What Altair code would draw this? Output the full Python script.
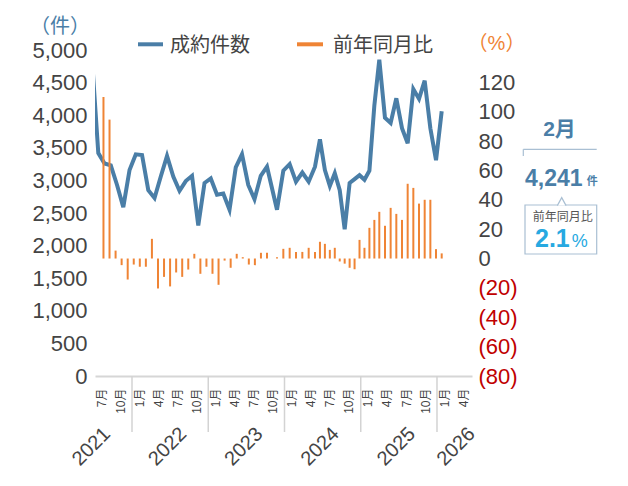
import altair as alt
import pandas as pd

# ---------------- data ----------------
months = [f"{y}-{m:02d}" for y in range(2021, 2027) for m in range(1, 13)]
months = months[months.index("2021-03"): months.index("2026-02") + 1]

# 成約件数 (monthly contracts); 2021-03 is only partly visible at the left edge
counts = [4850, 3420, 3260, 3230, 2930, 2590, 3160, 3400, 3390, 2850,          # 2021-03..12
          2730, 3060, 3375, 3060, 2840, 2990, 3070, 2310, 2960, 3030, 2780, 2800,  # 2022
          2550, 3200, 3400, 2930, 2710, 3070, 3210, 2550, 3150, 3250, 2980, 3120,  # 2023
          2980, 3210, 3630, 3160, 2915, 3110, 2850, 2250, 2960, 3020, 3080, 3010,  # 2024
          3150, 4150, 4850, 3960, 3880, 4260, 3800, 3570, 4400, 4250, 4530, 3800,  # 2025
          3310, 4060]                                                              # 2026

# 前年同月比 (%)
yoy = [None, 110.0, 94.6, 5.4, -4.5, -14.3, -4.1, -5.6, -5.6, 13.4,             # 2021-03..12
       -20.4, -12.5, -19.0, -9.5, -12.5, -7.5, 3.2, -10.4, -5.6, -10.4, -17.9, -1.4,  # 2022
       -6.3, 3.2, 0.9, -4.1, -4.5, 3.9, 3.9, 0.9, 6.6, 7.3, 4.5, 4.5,             # 2023
       7.3, 4.5, 11.4, 10.0, 5.9, 7.3, -2.0, -3.5, -6.3, -7.3, 12.7, 7.3,         # 2024
       20.9, 26.3, 31.8, 22.3, 34.5, 30.4, 26.3, 50.9, 48.1, 37.4, 40.0, 40.0,    # 2025
       6.4, 3.5]                                                                  # 2026

years = [2021, 2022, 2023, 2024, 2025, 2026]
month_ticks = list(range(6, 64, 3))          # Jul 2021 .. Apr 2026 (months since Jan 2021)
left_ticks = list(range(0, 5001, 500))
right_ticks = list(range(-80, 121, 20))

latest_month = "2月"
latest_count = "4,241"
latest_yoy = "2.1"

# ---------------- styles ----------------
BLUE = "#4a7ea7"
ORANGE = "#ef8435"
TXT = "#444444"
RED = "#c00000"
CYAN = "#27a9e1"
BORDER = "#a9bfd3"
FONT = "Liberation Sans, Noto Sans CJK JP"
W, H = 377, 326

df = pd.DataFrame({"month": months, "count": counts, "yoy": yoy})
df["i"] = list(range(-1, len(months) - 1))   # 0 = 2021-04

# the reference spaces the months slightly unevenly; follow it with a piecewise scale
xs = alt.Scale(domain=[-0.528, 27, 28, 34, 47, 58, 63.34],
               range=[0, 172, 182, 220, 284.3, 346.7, W], nice=False, zero=False)

bars = alt.Chart(df).mark_bar(size=2, color=ORANGE).encode(
    x=alt.X("i:Q", scale=xs, axis=None),
    y=alt.Y("yoy:Q", title=None,
            scale=alt.Scale(domain=[-80, 142], nice=False, zero=False),
            axis=alt.Axis(orient="right", values=right_ticks,
                          labelExpr="datum.value < 0 ? '(' + (-datum.value) + ')' : '' + datum.value",
                          labelColor={"condition": {"test": "datum.value < 0", "value": RED}, "value": TXT},
                          labelFontSize=22, labelFont=FONT, labelPadding=6,
                          domain=False, ticks=False, tickSize=0, grid=False)),
)

line = alt.Chart(df).mark_line(color=BLUE, strokeWidth=4, clip=True).encode(
    x=alt.X("i:Q", scale=xs, axis=None),
    y=alt.Y("count:Q", title=None,
            scale=alt.Scale(domain=[0, 5000], nice=False),
            axis=alt.Axis(orient="left", values=left_ticks, format=",.0f",
                          labelFontSize=22, labelFont=FONT, labelColor=TXT, labelPadding=8,
                          domain=False, ticks=False, tickSize=0, grid=False)),
)

# ---------------- month / year axis ----------------
axs = alt.Scale(domain=[5.677, 65.01], nice=False, zero=False)
sep_df = pd.DataFrame({"sep": [12 * (y - 2021) - 0.5 for y in years[1:]]})
year_df = pd.DataFrame({"year": [str(y) for y in years],
                        "anchor": [min(12 * (y - 2021) + 7.6, 65.0) for y in years]})

month_axis = alt.Axis(orient="bottom", values=month_ticks,
                      labelExpr="(datum.value % 12 + 1) + '月'",
                      labelAngle=270, labelAlign="right", labelBaseline="middle",
                      labelFontSize=12, labelFont=FONT, labelColor=TXT,
                      labelPadding=12, labelOffset=4, labelOverlap=False, labelFlush=False,
                      ticks=False, tickSize=0, domain=True, domainColor="#d6d6d6",
                      domainWidth=2, grid=False)

seps = alt.Chart(sep_df).mark_rule(color="#d3d3d3", strokeWidth=1.5).encode(
    x=alt.X("sep:Q", scale=axs, title=None, axis=month_axis),
    y=alt.value(H), y2=alt.value(H + 56),
)
year_text = alt.Chart(year_df).mark_text(angle=315, align="right", baseline="middle",
                                          fontSize=20, font=FONT, color=TXT).encode(
    x=alt.X("anchor:Q", scale=axs, title=None, axis=month_axis),
    y=alt.value(H + 55),
    text="year:N",
)
axis_layer = alt.layer(seps, year_text)

# ---------------- decorations: titles, legend, side panel ----------------
one = pd.DataFrame({"k": [0]})


def txt(s, x, y, size, color=TXT, align="center", baseline="middle", weight="normal"):
    return alt.Chart(one).mark_text(text=s, fontSize=size, font=FONT, color=color, align=align,
                                    baseline=baseline, fontWeight=weight).encode(
        x=alt.value(x), y=alt.value(y))


def hline(x1, x2, y, color, width):
    return alt.Chart(one).mark_rule(color=color, strokeWidth=width).encode(
        x=alt.value(x1), x2=alt.value(x2), y=alt.value(y))


decos = [
    txt("（件）", -35, -23, 20, BLUE),
    hline(43, 68, -5.7, BLUE, 4),
    txt("成約件数", 75, -4.5, 20, align="left"),
    hline(202, 228, -5.7, ORANGE, 4),
    txt("前年同月比", 238, -4.5, 20, align="left"),
    txt("（%）", 401.5, -6, 20, ORANGE),
    txt(latest_month, 464.5, 79.5, 21, BLUE, weight="bold"),
    hline(428.3, 501.7, 99.3, BORDER, 1.2),
    alt.Chart(one).mark_rule(color=BORDER, strokeWidth=1.2).encode(
        x=alt.value(428.3), y=alt.value(99.3), y2=alt.value(106)),
    txt(latest_count, 430, 136, 23, BLUE, align="left", baseline="alphabetic", weight="bold"),
    txt("件", 491.7, 134.5, 11, BLUE, align="left", baseline="alphabetic", weight="bold"),
    alt.Chart(one).mark_rect(fill="white", stroke=BORDER, strokeWidth=1.2).encode(
        x=alt.value(430), x2=alt.value(501.7), y=alt.value(155), y2=alt.value(204)),
    alt.Chart(one).mark_point(shape="M-1,1L0,-0.82L1,1", size=77, filled=True, fill="white",
                              stroke=BORDER, strokeWidth=1.2, opacity=1).encode(
        x=alt.value(466.7), y=alt.value(151.2)),
    txt("前年同月比", 467.8, 166.7, 12, "#555555"),
    txt(latest_yoy, 440, 196.7, 25, CYAN, align="left", baseline="alphabetic", weight="bold"),
    txt("%", 476.7, 196.7, 18, CYAN, align="left", baseline="alphabetic"),
]

chart = alt.layer(line, bars, axis_layer, *decos).resolve_scale(
    x="independent", y="independent"
).properties(
    width=W, height=H,
    autosize=alt.AutoSizeParams(type="none"),
    padding={"left": 87, "top": 42, "right": 612 - 87 - W, "bottom": 470 - 42 - H},
    background="white",
).configure_view(stroke=None)

chart.save("out.html", embed_options={"renderer": "svg", "actions": False})
